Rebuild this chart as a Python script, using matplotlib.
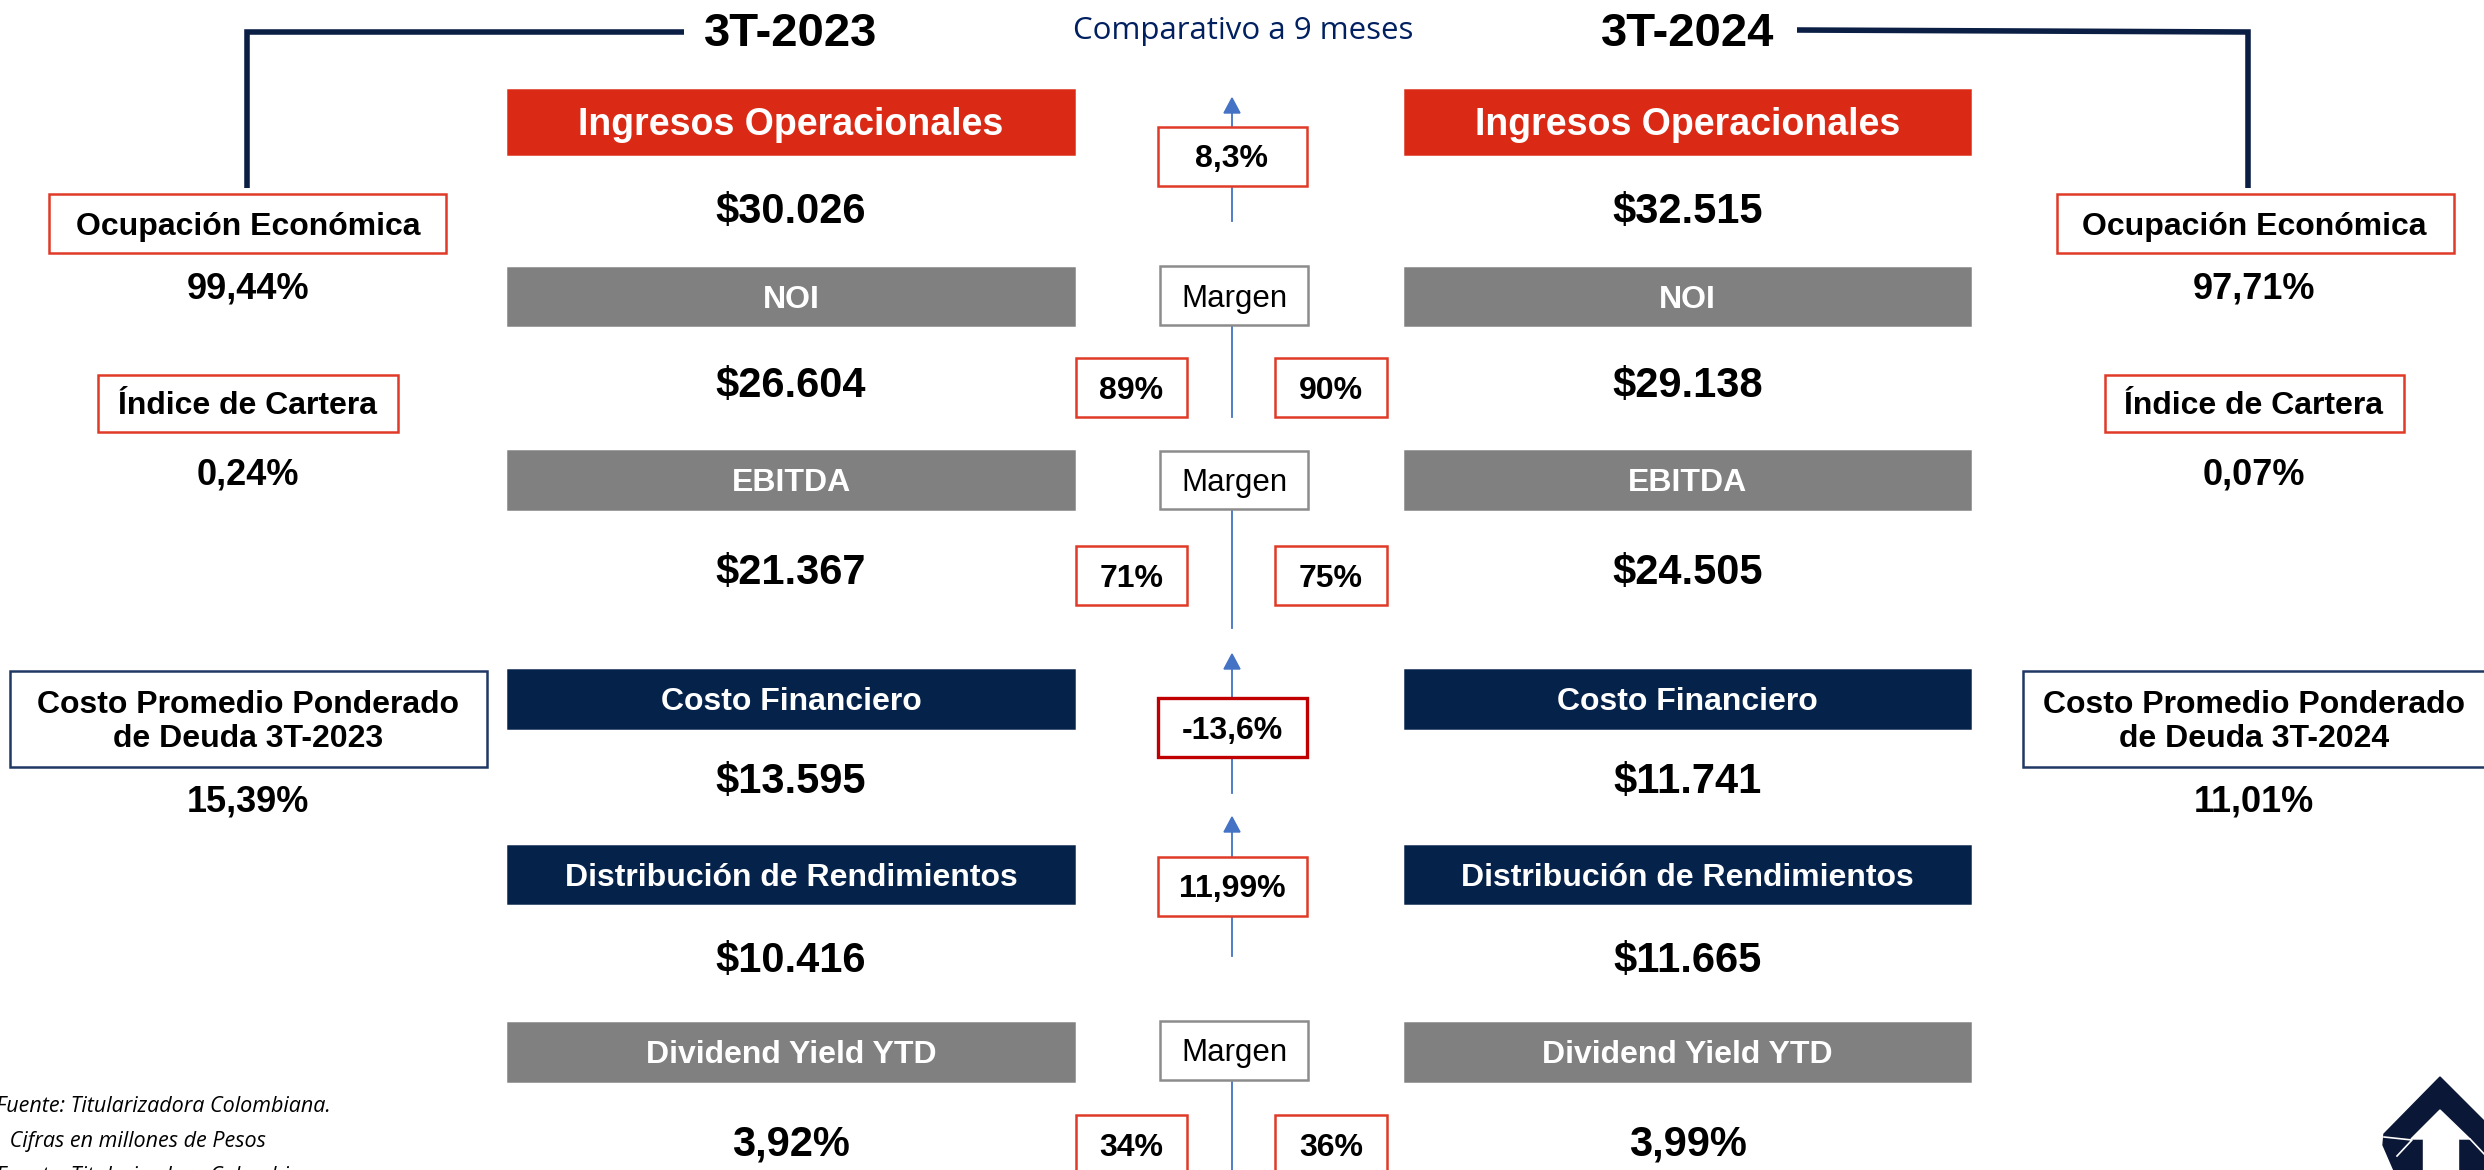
import matplotlib.pyplot as plt
from matplotlib.patches import Rectangle, Polygon

# --- DATOS ---
periodos = ["3T-2023", "3T-2024"]
subtitulo = "Comparativo a 9 meses"

metricas = ["Ingresos Operacionales", "NOI", "EBITDA", "Costo Financiero",
            "Distribución de Rendimientos", "Dividend Yield YTD"]
valores_2023 = [30026, 26604, 21367, 13595, 10416, 3.92]
valores_2024 = [32515, 29138, 24505, 11741, 11665, 3.99]
es_porcentaje = [False, False, False, False, False, True]

# variaciones entre periodos (filas 0, 3, 4)
variacion_filas = [0, 3, 4]
variaciones = [8.3, -13.6, 11.99]

# margenes (filas 1, 2, 5)
margen_filas = [1, 2, 5]
margenes_2023 = [89, 71, 34]
margenes_2024 = [90, 75, 36]

kpi_nombres = ["Ocupación Económica", "Índice de Cartera",
               "Costo Promedio Ponderado\nde Deuda {}"]
kpi_2023 = [99.44, 0.24, 15.39]
kpi_2024 = [97.71, 0.07, 11.01]

notas = ["Fuente: Titularizadora Colombiana.", " Cifras en millones de Pesos",
         "Fuente: Titularizadora Colombiana"]

# --- ESTILO / LAYOUT ---
W, H = 2484, 1170
RED = '#DA2A16'
GRAY = '#808080'
NAVY = '#05224B'
LINE_NAVY = '#0B1F45'
BLUE = '#4472C4'
BOX_RED = '#E03A28'
FONT = 'Liberation Sans'

colores = [RED, GRAY, GRAY, NAVY, NAVY, GRAY]
caja_top = [90, 268, 451, 670, 846, 1023]
caja_h = [64, 57, 58, 58, 57, 58]
valor_y = [212, 386, 573, 782, 961, 1144]
col_x = [(508, 1074), (1405, 1970)]
cx = 1232
dy = 3  # ajuste vertical del texto dentro de las cajas


def fmt_num(v, pct):
    if pct:
        return f"{v:.2f}".replace('.', ',') + '%'
    return '$' + f"{v:,.0f}".replace(',', '.')


def fmt_pct(v, dec):
    return f"{v:.{dec}f}".replace('.', ',') + '%'


fig = plt.figure(figsize=(W / 100, H / 100), dpi=100)
ax = fig.add_axes([0, 0, 1, 1])
ax.set_xlim(0, W)
ax.set_ylim(H, 0)
ax.axis('off')


def box(x0, y0, x1, y1, fc='white', ec=None, lw=1.8, z=3):
    ax.add_patch(Rectangle((x0, y0), x1 - x0, y1 - y0, facecolor=fc,
                           edgecolor=ec if ec else fc, linewidth=lw, zorder=z))


def txt(x, y, s, size, weight='bold', color='black', **kw):
    kw.setdefault('family', FONT)
    ax.text(x, y, s, fontsize=size, fontweight=weight, color=color,
            ha='center', va='center', zorder=5, **kw)


# --- encabezado ---
ax.plot([247, 247, 684], [188, 32, 32], color=LINE_NAVY, lw=4,
         solid_joinstyle='miter', solid_capstyle='butt')
ax.plot([1797, 2248, 2248], [30, 32, 188], color=LINE_NAVY, lw=4,
         solid_joinstyle='miter', solid_capstyle='butt')
txt(791, 34, periodos[0], 34)
txt(1688, 34, periodos[1], 34)
txt(1243, 31, subtitulo, 22.5, weight='normal', color='#002060', family='Open Sans')

# --- columnas centrales ---
for i, m in enumerate(metricas):
    top = caja_top[i]
    bot = top + caja_h[i]
    size = 27 if i == 0 else 23
    for j, (x0, x1) in enumerate(col_x):
        box(x0, top, x1, bot, fc=colores[i])
        txt((x0 + x1) / 2, (top + bot) / 2 + dy, m, size, color='white')
        vals = valores_2023 if j == 0 else valores_2024
        txt((x0 + x1) / 2, valor_y[i], fmt_num(vals[i], es_porcentaje[i]), 30)

# --- variaciones con flecha ---
var_geom = [(98, 127, 186, 221), (654, 698, 757, 793), (817, 857, 916, 956)]
for k, v in enumerate(variaciones):
    tip, btop, bbot, lbot = var_geom[k]
    ax.plot([cx, cx], [tip + 14, lbot], color=BLUE, lw=1.3, zorder=2)
    ax.add_patch(Polygon([(cx, tip), (cx - 8, tip + 15), (cx + 8, tip + 15)],
                         closed=True, color=BLUE, zorder=2))
    dec = 2 if abs(v * 10 - round(v * 10)) > 1e-6 else 1
    ec = '#C00000' if v < 0 else BOX_RED
    lw = 2.4 if v < 0 else 1.8
    x0, x1 = (1158, 1307)
    box(x0, btop, x1, bbot, ec=ec, lw=lw)
    txt(cx, (btop + bbot) / 2 + dy, fmt_pct(v, dec), 23)

# --- margenes ---
marg_geom = [(266, 325, 417, 358), (451, 509, 628, 546), (1021, 1080, 1175, 1115)]
for k, fila in enumerate(margen_filas):
    mtop, mbot, lbot, ptop = marg_geom[k]
    ax.plot([cx, cx], [mbot, lbot], color=BLUE, lw=1.3, zorder=2)
    box(1160, mtop, 1308, mbot, ec='#8C8C8C', lw=1.8)
    txt(1234, (mtop + mbot) / 2 + dy, "Margen", 22.5, weight='normal')
    for (x0, x1), mv in zip([(1076, 1187), (1275, 1387)],
                            [margenes_2023[k], margenes_2024[k]]):
        box(x0, ptop, x1, ptop + 59, ec=BOX_RED, lw=1.8)
        txt((x0 + x1) / 2, ptop + 30 + dy, f"{mv}%", 23)

# --- indicadores laterales ---
kpi_boxes = [[(49, 194, 446, 253), (98, 375, 398, 432), (10, 671, 487, 767)],
             [(2057, 194, 2454, 253), (2105, 375, 2404, 432), (2023, 671, 2495, 767)]]
kpi_val_y = [289, 475, 802]
for j, vals in enumerate([kpi_2023, kpi_2024]):
    xc = 248 if j == 0 else 2254
    for k, nombre in enumerate(kpi_nombres):
        x0, y0, x1, y1 = kpi_boxes[j][k]
        ec = '#1F3864' if k == 2 else BOX_RED
        box(x0, y0, x1, y1, ec=ec, lw=1.8)
        label = nombre.format(periodos[j]) if k == 2 else nombre
        txt(xc, (y0 + y1) / 2 + dy, label, 23, linespacing=1.15)
        txt(xc, kpi_val_y[k], fmt_pct(vals[k], 2), 26)

# --- notas ---
for s, x, y in zip(notas, [-4, 4, -4], [1107, 1141, 1176]):
    ax.text(x, y, s, fontsize=15.5, style='italic', family='Open Sans',
            ha='left', va='center', color='black')

# --- logo ---
ax.add_patch(Polygon([(2440, 1077), (2500, 1137), (2500, 1175), (2396, 1175),
                      (2383, 1145), (2384, 1134)], closed=True, color='#0A1736', zorder=4))
ax.add_patch(Polygon([(2440, 1110), (2411, 1139), (2470, 1139)], closed=True,
                     color='white', zorder=5))
ax.add_patch(Rectangle((2423, 1139), 35, 40, color='white', zorder=5))
ax.plot([2384, 2412, 2397], [1137, 1140, 1156], color='white', lw=1.2, zorder=6)
ax.plot([2470, 2486], [1139, 1156], color='white', lw=1.2, zorder=6)

fig.savefig('out.png', dpi=100)
